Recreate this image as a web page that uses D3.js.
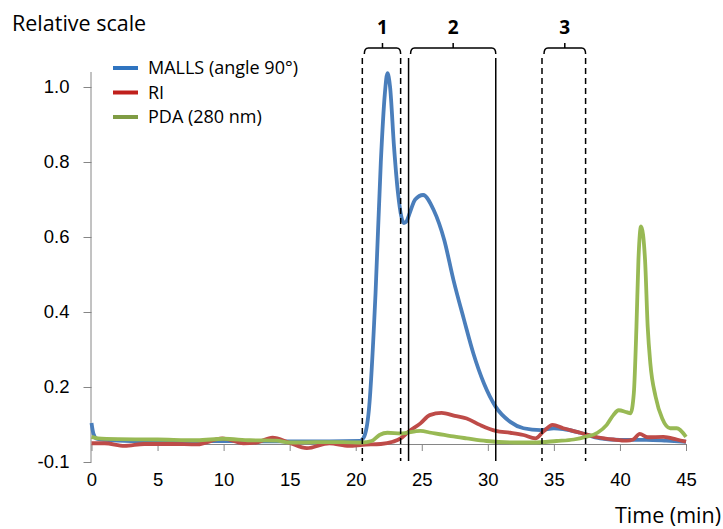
<!DOCTYPE html>
<html>
<head>
<meta charset="utf-8">
<script src="https://cdn.jsdelivr.net/npm/d3@7"></script>
<style>
    body { margin: 0; background: white; }
    svg { display: block; font-family: 'Open Sans', sans-serif; }
</style>
</head>
<body>
<svg id="chart" width="723" height="529"></svg>
<script>
// MALLS (light scattering, angle 90)
const mallsTime = [0, 0.15, 0.4, 1, 3, 6, 9, 12, 15, 18, 20.3, 20.6, 21.0, 21.5, 21.9, 22.2, 22.4, 22.6, 22.9, 23.2, 23.45, 23.65, 23.85, 24.1, 24.5, 25.1, 25.9, 26.7, 27.4, 28.2, 28.9, 29.7, 30.6, 31.7, 32.7, 34.0, 35.0, 35.7, 37.0, 38.5, 40, 42, 43.5, 45]
const mallsValue = [0.104, 0.075, 0.062, 0.059, 0.056, 0.056, 0.056, 0.055, 0.055, 0.055, 0.056, 0.065, 0.14, 0.45, 0.80, 0.98, 1.037, 1.0, 0.84, 0.717, 0.655, 0.637, 0.642, 0.665, 0.70, 0.712, 0.672, 0.592, 0.485, 0.379, 0.29, 0.21, 0.147, 0.107, 0.09, 0.085, 0.09, 0.088, 0.078, 0.063, 0.059, 0.059, 0.057, 0.054]

// RI
const riTime = [0, 1, 2.5, 4, 6, 8, 9.9, 11.5, 12.5, 13.7, 15, 16.3, 18, 19.5, 20.5, 21.9, 22.8, 23.4, 24.0, 24.9, 25.6, 26.5, 27.5, 28.4, 29.4, 30.6, 31.7, 32.7, 33.6, 34.2, 34.9, 35.7, 37, 38.3, 39.5, 40.5, 41.0, 41.5, 42.1, 43.3, 44.3, 45]
const riValue = [0.050, 0.050, 0.043, 0.048, 0.048, 0.047, 0.063, 0.050, 0.052, 0.065, 0.051, 0.037, 0.050, 0.043, 0.046, 0.048, 0.054, 0.063, 0.081, 0.103, 0.125, 0.131, 0.123, 0.116, 0.099, 0.083, 0.078, 0.072, 0.063, 0.081, 0.099, 0.090, 0.078, 0.066, 0.060, 0.057, 0.060, 0.075, 0.066, 0.067, 0.060, 0.054]

// PDA (280 nm)
const pdaTime = [0, 0.5, 2, 5, 8, 10, 12, 14, 15, 17, 19, 20.5, 21.2, 21.8, 22.4, 23.4, 24.9, 25.7, 27.2, 28.4, 29.9, 32, 33.5, 35.2, 36.5, 37.4, 38.3, 39.0, 39.5, 39.9, 40.5, 40.8, 41.05, 41.25, 41.4, 41.6, 41.9, 42.1, 42.3, 42.7, 43.2, 43.8, 44.3, 45]
const pdaValue = [0.067, 0.063, 0.061, 0.060, 0.058, 0.062, 0.058, 0.057, 0.052, 0.053, 0.053, 0.052, 0.056, 0.072, 0.078, 0.076, 0.083, 0.078, 0.069, 0.063, 0.056, 0.052, 0.052, 0.056, 0.060, 0.067, 0.078, 0.099, 0.125, 0.138, 0.133, 0.130, 0.183, 0.361, 0.539, 0.628, 0.539, 0.361, 0.263, 0.174, 0.116, 0.090, 0.090, 0.067]

const seriesNames = ['MALLS (angle 90°)', 'RI', 'PDA (280 nm)']

const xTicks = [0, 5, 10, 15, 20, 25, 30, 35, 40, 45]
const yTicks = [0, 0.2, 0.4, 0.6, 0.8, 1.0]
const yTickLabels = ['-0.1', '0.2', '0.4', '0.6', '0.8', '1.0']

// fraction boundaries (min): dashed and solid markers
const fractionLines = [
    { t: 20.5, dashed: true }, { t: 23.4, dashed: true },
    { t: 24.0, dashed: false }, { t: 30.6, dashed: false },
    { t: 34.1, dashed: true }, { t: 37.4, dashed: true }
]
const fractionLabels = ['1', '2', '3']

const colours = ['#4a7ebb', '#be4b48', '#98b954']
const legendColours = ['#2f74c0', '#c0201c', '#7f9c44']
const axisColour = '#868686'

const svg = d3.select('#chart')

const x = d3.scaleLinear().domain([0, 45]).range([91.5, 686])
const y = d3.scaleLinear().domain([0, 1.04]).range([462, 72])
const xAxisAt = y(0.048)

// y axis
svg.append('g')
    .attr('transform', `translate(${x(0)}, 0)`)
    .style('font-size', '18.5px')
    .call(
        d3.axisLeft(y)
            .tickValues(yTicks)
            .tickFormat((d, i) => yTickLabels[i])
            .tickSize(8)
            .tickPadding(14)
    )
    .call(g => {
        g.select('.domain').attr('stroke', axisColour).attr('d', `M-0.5,${y.range()[0]}V${y.range()[1]}`)
        g.selectAll('.tick line').attr('stroke', axisColour)
        g.selectAll('text').attr('fill', '#000')
    })

// x axis
svg.append('g')
    .attr('transform', `translate(0, ${xAxisAt})`)
    .style('font-size', '18.5px')
    .call(
        d3.axisBottom(x)
            .tickValues(xTicks)
            .tickFormat(d3.format('d'))
            .tickSize(7)
            .tickSizeOuter(0)
            .tickPadding(22)
    )
    .call(g => {
        g.select('.domain').attr('stroke', axisColour)
        g.selectAll('.tick line').attr('stroke', axisColour)
        g.selectAll('text').attr('fill', '#000')
    })

// axis titles
svg.append('text')
    .attr('x', 12)
    .attr('y', 30.5)
    .style('font-size', '21.5px')
    .text('Relative scale')

svg.append('text')
    .attr('x', 721)
    .attr('y', 523)
    .attr('text-anchor', 'end')
    .style('font-size', '21.5px')
    .text('Time (min)')

// series
const line = d3.line()
    .x(d => x(d[0]))
    .y(d => y(d[1]))
    .curve(d3.curveMonotoneX)

const series = [
    d3.zip(mallsTime, mallsValue),
    d3.zip(riTime, riValue),
    d3.zip(pdaTime, pdaValue)
]

series.forEach((s, i) => {
    svg.append('path')
        .datum(s)
        .attr('fill', 'none')
        .attr('stroke', colours[i])
        .attr('stroke-width', 3.8)
        .attr('stroke-linejoin', 'round')
        .attr('d', line)
})

// fraction markers
svg.append('g')
    .selectAll('line')
    .data(fractionLines)
    .join('line')
    .attr('x1', d => x(d.t))
    .attr('x2', d => x(d.t))
    .attr('y1', 58)
    .attr('y2', 461)
    .attr('stroke', '#000')
    .attr('stroke-width', 1.5)
    .attr('stroke-dasharray', d => d.dashed ? '6,4' : null)

// brackets over each pair of markers
const brackets = d3.range(fractionLabels.length).map(i => ({
    x1: x(fractionLines[i * 2].t) + 2,
    x2: x(fractionLines[i * 2 + 1].t),
    label: fractionLabels[i]
}))

const bracketTop = 48
const bracketG = svg.append('g')

bracketG.selectAll('path')
    .data(brackets)
    .join('path')
    .attr('fill', 'none')
    .attr('stroke', '#000')
    .attr('stroke-width', 1.5)
    .attr('d', d => {
        const mid = (d.x1 + d.x2) / 2
        return `M${d.x1},${bracketTop + 6} Q${d.x1},${bracketTop} ${d.x1 + 4},${bracketTop}` +
            ` H${d.x2 - 4} Q${d.x2},${bracketTop} ${d.x2},${bracketTop + 6}` +
            ` M${mid},${bracketTop} V${bracketTop - 5}`
    })

bracketG.selectAll('text')
    .data(brackets)
    .join('text')
    .attr('x', d => (d.x1 + d.x2) / 2)
    .attr('y', 34)
    .attr('text-anchor', 'middle')
    .style('font-size', '19px')
    .style('font-weight', 'bold')
    .text(d => d.label)

// legend
const legend = svg.append('g')
    .selectAll('g')
    .data(seriesNames)
    .join('g')
    .attr('transform', (d, i) => `translate(113, ${68 + i * 24.5})`)

legend.append('line')
    .attr('x1', 0)
    .attr('x2', 25)
    .attr('stroke', (d, i) => legendColours[i])
    .attr('stroke-width', 4)

legend.append('text')
    .attr('x', 35)
    .attr('dy', '0.35em')
    .style('font-size', '18px')
    .text(d => d)
</script>
</body>
</html>
